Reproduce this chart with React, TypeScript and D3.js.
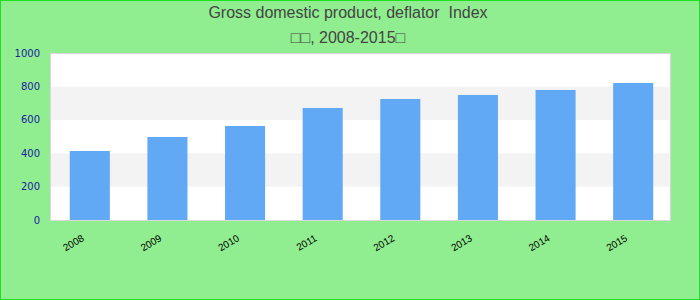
import React from "react";
import * as d3 from "d3";

const categories = ["2008", "2009", "2010", "2011", "2012", "2013", "2014", "2015"];
const deflatorValues = [414, 498, 564, 672, 726, 750, 780, 822];
const yTicks = [0, 200, 400, 600, 800, 1000];
const titleLine1 = "Gross domestic product, deflator  Index";
const titleLine2 = "\u25A1\u25A1, 2008-2015\u25A1";

const W = 700;
const H = 300;
const plot = { left: 50.5, right: 670.5, top: 53.5, bottom: 220 };

export default function App() {
  const x = d3
    .scaleBand<string>()
    .domain(categories)
    .range([51, 672])
    .paddingInner(0.484)
    .paddingOuter(0.242);
  const y = d3.scaleLinear().domain([0, 1000]).range([220, 53.3]);

  const bands: [number, number][] = [];
  for (let i = 0; i < yTicks.length - 1; i++) {
    if (i % 2 === 1) bands.push([yTicks[i], yTicks[i + 1]]);
  }

  const titleStyle = { whiteSpace: "pre" as const };

  return (
    <div style={{ position: "absolute", left: 0, top: 0 }}>
      <svg width={W} height={H} style={{ display: "block" }}>
        <rect x={0.5} y={0.5} width={W - 1} height={H - 1} fill="#90ee90" stroke="#1ee01e" strokeWidth={1} />
        <text x={348} y={17.5} textAnchor="middle" fontFamily="'Liberation Sans', Arial, sans-serif" fontSize={16} fill="#444" style={titleStyle}>
          {titleLine1}
        </text>
        <text x={348} y={42.5} textAnchor="middle" fontFamily="'Liberation Sans', Arial, sans-serif" fontSize={16} fill="#444" style={titleStyle}>
          {titleLine2}
        </text>
        <rect x={plot.left} y={plot.top} width={plot.right - plot.left} height={plot.bottom - plot.top} fill="#ffffff" />
        {bands.map(([a, b], i) => (
          <rect key={i} x={plot.left} y={y(b)} width={plot.right - plot.left} height={y(a) - y(b)} fill="#f3f3f3" />
        ))}
        {categories.map((c, i) => (
          <rect key={c} x={x(c)} y={y(deflatorValues[i])} width={x.bandwidth()} height={y(0) - y(deflatorValues[i])} fill="#61a9f5" />
        ))}
        <rect x={plot.left} y={plot.top} width={plot.right - plot.left} height={plot.bottom - plot.top + 0.5} fill="none" stroke="#d8d8d8" strokeWidth={1} />
        {yTicks.map((t) => (
          <text key={t} x={40} y={y(t)} dy="0.35em" textAnchor="end" fontFamily="'DejaVu Sans', sans-serif" fontSize={10} fill="#2020a0">
            {t}
          </text>
        ))}
        {categories.map((c) => {
          const cx = (x(c) as number) + x.bandwidth() / 2;
          return (
            <text
              key={c}
              transform={`translate(${cx - 5},${240.3}) rotate(-30)`}
              textAnchor="end"
              fontFamily="'Liberation Sans', Arial, sans-serif"
              fontSize={10}
              fill="#000"
            >
              {c}
            </text>
          );
        })}
      </svg>
    </div>
  );
}
